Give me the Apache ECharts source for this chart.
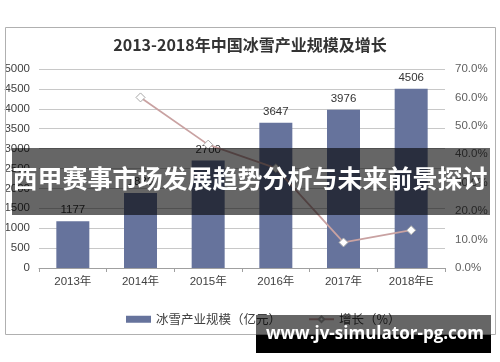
<!DOCTYPE html>
<html>
<head>
<meta charset="utf-8">
<script src="https://cdn.jsdelivr.net/npm/echarts@6/dist/echarts.min.js"></script>
<style>html,body{margin:0;padding:0;background:#fff;}#c{width:500px;height:362px;}</style>
</head>
<body>
<div id="c"></div>
<script>
const titleText = '2013-2018年中国冰雪产业规模及增长';
const categories = ['2013年', '2014年', '2015年', '2016年', '2017年', '2018年E'];
const scaleValues = [1177, 1883, 2700, 3647, 3976, 4506];
const growthValues = [null, 0.60, 0.434, 0.351, 0.090, 0.133];
const leftTicks = [0, 500, 1000, 1500, 2000, 2500, 3000, 3500, 4000, 4500, 5000];
const rightTicks = [0, 0.1, 0.2, 0.3, 0.4, 0.5, 0.6, 0.7];
const seriesNames = ['冰雪产业规模（亿元）', '增长（%）'];
const bannerText = '西甲赛事市场发展趋势分析与未来前景探讨';
const watermarkText = 'www.jv-simulator-pg.com';

const chart = echarts.init(document.getElementById('c'), null, {renderer: 'canvas'});
const font = 'Liberation Sans, Arial, sans-serif';
const option = {
  animation: false,
  backgroundColor: '#fff',
  title: {
    text: titleText, left: 'center', top: 32,
    textStyle: {fontFamily: 'Noto Sans CJK SC', fontWeight: 'bold', fontSize: 16, color: '#333'}
  },
  grid: {left: 39, right: 55, top: 69, bottom: 94},
  legend: {
    left: 121, top: 308, itemGap: 27, itemWidth: 25, itemHeight: 7,
    textStyle: {fontFamily: 'Noto Sans CJK SC', fontSize: 12.5, color: '#404040'},
    data: [
      {name: seriesNames[0], icon: 'rect'},
      {name: seriesNames[1]}
    ]
  },
  xAxis: {
    type: 'category', data: categories,
    axisLine: {lineStyle: {color: '#a0a0a0'}},
    axisTick: {show: true, alignWithLabel: false, length: 4, lineStyle: {color: '#a0a0a0'}},
    axisLabel: {margin: 8, fontFamily: font + ', Noto Sans CJK SC', fontSize: 11.5, color: '#404040'}
  },
  yAxis: [
    {
      type: 'value', min: leftTicks[0], max: leftTicks[leftTicks.length - 1], interval: leftTicks[1] - leftTicks[0],
      axisLine: {show: false}, axisTick: {show: false},
      splitLine: {lineStyle: {color: '#c8c8c8'}},
      axisLabel: {margin: 9, fontFamily: font, fontSize: 11.5, color: '#404040', formatter: v => String(v)}
    },
    {
      type: 'value', min: rightTicks[0], max: rightTicks[rightTicks.length - 1], interval: 0.1,
      axisLine: {show: false}, axisTick: {show: false}, splitLine: {show: false},
      axisLabel: {margin: 10, fontFamily: font, fontSize: 11.5, color: '#606060',
        formatter: v => (v * 100).toFixed(1) + '%'}
    }
  ],
  series: [
    {
      name: seriesNames[0], type: 'bar', data: scaleValues, barWidth: 33,
      itemStyle: {color: '#66739c'},
      label: {show: true, position: 'top', distance: 5, fontFamily: font, fontSize: 11.5, color: '#333'}
    },
    {
      name: seriesNames[1], type: 'line', yAxisIndex: 1, data: growthValues,
      lineStyle: {color: '#c9a2a2', width: 1.8},
      itemStyle: {color: '#fff', borderColor: '#a8a8a8', borderWidth: 1},
      symbol: 'diamond', symbolSize: 9, showSymbol: true
    }
  ],
  graphic: [
    {type: 'rect', left: 3, top: 25, shape: {width: 490, height: 307}, style: {fill: 'none', stroke: '#b0b0b0', lineWidth: 1}, z: 100},
    {type: 'rect', left: 12, top: 148, shape: {width: 478, height: 67}, style: {fill: 'rgba(0,0,0,0.6)'}, z: 100},
    {type: 'text', left: 'center', top: 166, style: {text: bannerText, fill: '#fff', font: 'bold 25px "Noto Sans CJK SC"'}, z: 101},
    {type: 'rect', left: 256, top: 315, shape: {width: 235, height: 20}, style: {fill: 'rgba(0,0,0,0.6)'}, z: 100},
    {type: 'rect', left: 256, top: 335, shape: {width: 235, height: 18}, style: {fill: '#000'}, z: 100},
    {type: 'text', left: 266, top: 326, style: {text: watermarkText, fill: '#fff', font: 'bold 17px "Open Sans"'}, z: 101}
  ]
};
chart.setOption(option);
</script>
</body>
</html>
